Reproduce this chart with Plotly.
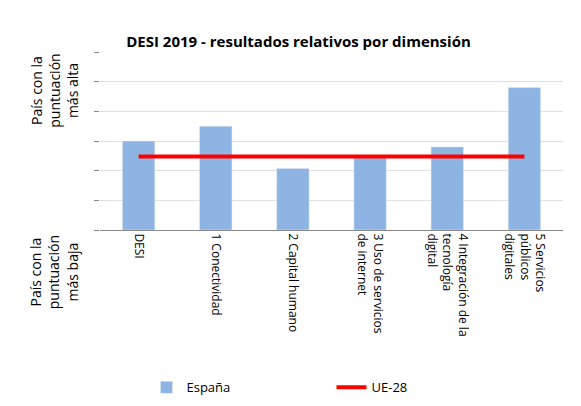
import plotly.graph_objects as go

categories = ["DESI", "1 Conectividad", "2 Capital humano", "3 Uso de servicios<br>de internet",
              "4 Integración de la<br>tecnología<br>digital", "5 Servicios<br>públicos<br>digitales"]
espana = [3.0, 3.5, 2.07, 2.5, 2.8, 4.8]
ue28 = [2.48] * 6

fig = go.Figure()
fig.add_bar(x=categories, y=espana, name="España", marker_color="#8db4e2", width=0.42)
fig.add_scatter(x=categories, y=ue28, name="UE-28", mode="lines",
                line=dict(color="#ff0000", width=4))
fig.update_layout(
    width=581, height=406, plot_bgcolor="white", paper_bgcolor="white",
    font=dict(family="Open Sans, Calibri, sans-serif", size=12, color="black"),
    title=dict(text="<b>DESI 2019 - resultados relativos por dimensión</b>", x=0.5, y=0.93,
               xanchor="center", font=dict(size=15)),
    margin=dict(l=92, r=26, t=44, b=176),
    showlegend=True,
    legend=dict(orientation="h", x=0.5, xanchor="center", y=-0.8, font=dict(size=13),
                entrywidth=140),
    bargap=0.5,
)
fig.update_xaxes(tickangle=90, showline=True, linecolor="#888", ticks="outside",
                 ticklen=0, tickfont=dict(size=12))
fig.update_yaxes(range=[0, 6], dtick=1, showgrid=True, gridcolor="#e0e0e0",
                 showticklabels=False, zeroline=False, showline=False, ticks="outside",
                 ticklen=5, tickcolor="#888")
fig.add_annotation(text="País con la<br>puntuación<br>más alta", xref="paper", yref="paper",
                   x=-0.10, y=1.0, textangle=-90, showarrow=False, font=dict(size=14),
                   xanchor="center", yanchor="top")
fig.add_annotation(text="País con la<br>puntuación<br>más baja", xref="paper", yref="paper",
                   x=-0.10, y=-0.02, textangle=-90, showarrow=False, font=dict(size=14),
                   xanchor="center", yanchor="top")
fig.write_html("out.html")
